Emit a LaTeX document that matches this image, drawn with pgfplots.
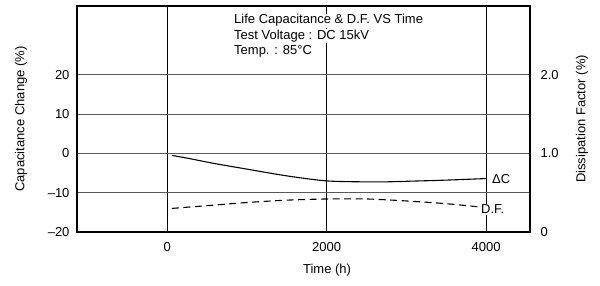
\documentclass[border=0pt]{standalone}
\usepackage{fontspec}
\setmainfont{Liberation Sans}
\usepackage{pgfplots}
\pgfplotsset{compat=1.18}
\begin{document}
\begin{tikzpicture}
\useasboundingbox (-77pt,-54pt) rectangle (523pt,232pt);
\begin{axis}[
  scale only axis, width=453pt, height=226pt,
  xmin=-1130, xmax=4550, ymin=-20, ymax=37.5,
  xtick={0,2000,4000},
  ytick={-20,-10,0,10,20},
  yticklabels={\textendash20,\textendash10,0,10,20},
  major tick length=0pt,
  axis line style={line width=1.2pt},
  xmajorgrids, ymajorgrids,
  x grid style={black, line width=0.8pt},
  y grid style={black!65, line width=1pt},
  font=\fontsize{13}{15}\selectfont,
  /pgf/number format/assume math mode=true,
  /pgf/number format/1000 sep={},
  xticklabel style={yshift=-7pt},
  yticklabel style={xshift=-4pt},
  xlabel={Time (h)},
  xlabel style={at={(axis description cs:0.552,-0.168)}, anchor=center},
  ylabel={Capacitance Change (\%)},
  ylabel style={at={(axis description cs:-0.1236,0.5)}, anchor=center},
  clip=false,
]
\addplot[black, line width=1.1pt, smooth] coordinates {
 (60,-0.5) (300,-1.4) (600,-2.6) (1000,-4.0) (1400,-5.4) (1700,-6.3)
 (2000,-7.0) (2300,-7.2) (2700,-7.25) (3000,-7.1) (3500,-6.8) (4000,-6.4)};
\node[fill=white, inner sep=1pt] at (axis cs:4188,-6.6) {ΔC};
\end{axis}
\begin{axis}[
  scale only axis, width=453pt, height=226pt,
  xmin=-1130, xmax=4550, ymin=0, ymax=2.875,
  axis x line=none, axis y line*=right,
  ytick={0,1,2}, yticklabels={0,1.0,2.0},
  major tick length=0pt,
  axis line style={line width=1.2pt},
  font=\fontsize{13}{15}\selectfont,
  /pgf/number format/assume math mode=true,
  yticklabel style={xshift=7pt},
  ylabel={Dissipation Factor (\%)},
  ylabel style={at={(axis description cs:1.1148,0.5)}, anchor=center},
  clip=false,
]
\addplot[black, line width=1.1pt, smooth, dash pattern=on 7pt off 4.5pt] coordinates {
 (60,0.30) (500,0.335) (1000,0.375) (1500,0.405) (2000,0.42) (2500,0.42)
 (3000,0.395) (3500,0.36) (4000,0.31)};
\node[fill=white, inner sep=1pt] at (axis cs:4082,0.2875) {D.F.};
\end{axis}
\begin{scope}[every node/.style={anchor=base west, fill=white, inner sep=1pt, font=\fontsize{13}{15}\selectfont}]
\node at (156pt,208pt) {Life Capacitance \& D.F. VS Time};
\node at (156pt,192.5pt) {Test Voltage : DC 15kV};
\node at (156pt,177pt) {Temp. : 85°C};
\end{scope}
\end{tikzpicture}
\end{document}
